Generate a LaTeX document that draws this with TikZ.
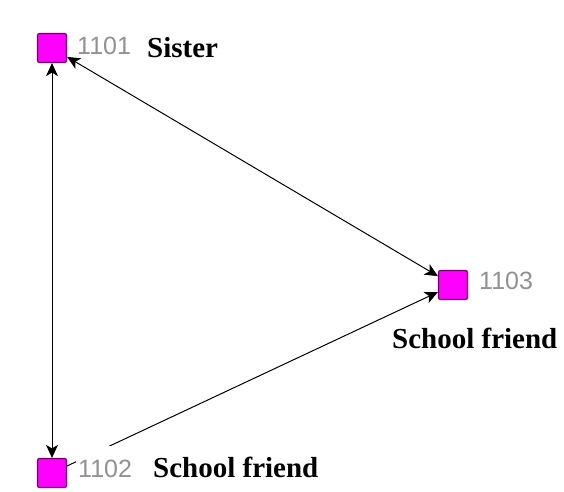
\documentclass[tikz,border=0pt]{standalone}
\usepackage{fontspec}
\setmainfont{Liberation Serif}
\newfontfamily\idfont{Liberation Sans}
\usetikzlibrary{arrows.meta, positioning}
\definecolor{actorfill}{RGB}{255,0,255}
\definecolor{actorline}{RGB}{110,0,110}
\definecolor{idgray}{RGB}{145,145,145}
\tikzset{
  actor/.style   = {draw=actorline, fill=actorfill, rounded corners=2pt,
                    minimum size=29pt, inner sep=0pt, line width=1.2pt},
  idlabel/.style = {font=\idfont\fontsize{25}{25}\selectfont, text=idgray,
                    fill=white, inner sep=0pt, anchor=base west},
  role/.style    = {font=\bfseries\fontsize{29}{29}\selectfont,
                    inner sep=0pt, anchor=base west},
  link/.style    = {<->, >={Stealth[length=13pt, width=12pt, inset=3.5pt]},
                    line width=1pt},
  arc/.style     = {->, >={Stealth[length=13pt, width=12pt, inset=3.5pt]},
                    line width=1pt},
}
\begin{document}
\begin{tikzpicture}[x=1pt, y=-1pt]
  \useasboundingbox (0,0) rectangle (564,491);
  % actors
  \node[actor] (n1101) at (52,48) {};
  \node[actor] (n1102) at (52,473) {};
  \node[actor] (n1103) at (453,285) {};
  % ties
  \draw[link] (n1101) -- (n1102);
  \draw[link] (n1101) -- (n1103);
  \draw[arc]  (n1102) -- (n1103);
  % ids and roles
  \node[idlabel] (id1101) at (77,54) {1101};
  \node[idlabel, inner xsep=2pt, text height=31pt] (id1102) at (76,477) {1102};
  \node[idlabel] (id1103) at (479,289) {1103};
  \node[role] (r1101) at (147,57) {Sister};
  \node[role] (r1102) at (153,477) {School friend};
  \node[role] (r1103) at (392,348) {School friend};
\end{tikzpicture}
\end{document}
